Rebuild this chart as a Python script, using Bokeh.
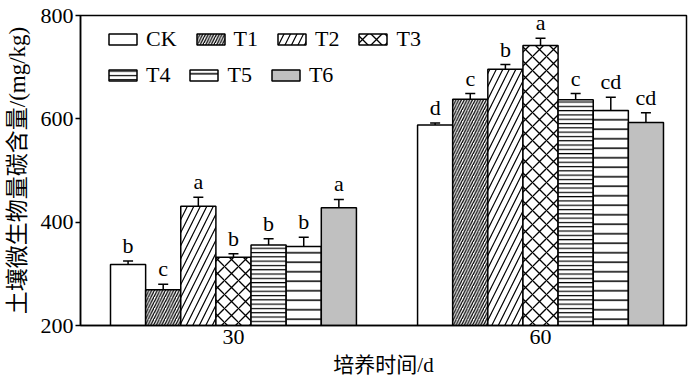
from bokeh.plotting import figure
from bokeh.models import (Range1d, FixedTicker, Whisker, TeeHead, ColumnDataSource,
                          Legend, LegendItem)
from bokeh.embed import file_html
from bokeh.resources import INLINE
from bokeh.core.properties import value

# ---- data ----
days = ["30", "60"]
treatments = ["CK", "T1", "T2", "T3", "T4", "T5", "T6"]
mbc_30 = [318, 269, 431, 332, 356, 353, 428]
err_30 = [7, 11, 17, 7, 12, 18, 16]
mbc_60 = [588, 638, 696, 742, 637, 616, 593]
err_60 = [4, 11, 9, 14, 12, 26, 19]
letters_30 = ["b", "c", "a", "b", "b", "b", "a"]
letters_60 = ["d", "c", "b", "a", "c", "cd", "cd"]
y_ticks = [200, 400, 600, 800]
x_title = "培养时间/d"
y_title = "土壤微生物量碳含量/(mg/kg)"

# ---- styles ----
fills = ["white"] * 6 + ["#c0c0c0"]
hatches = [None, "/", "/", "x", "-", "-", None]
hatch_scales = [12, 5.5, 13, 14, 4.3, 9.5, 12]
hatch_weights = [1, 1.3, 1.2, 1.3, 1.2, 1.5, 1]
GROUP_STEP = 8.74
SERIF = "Liberation Serif"
CJK = "'Liberation Serif', 'Noto Sans CJK SC'"
FS = "22px"

p = figure(width=700, height=386, output_backend="svg",
           toolbar_location=None,
           x_range=Range1d(-1.354, 15.895), y_range=Range1d(200, 800),
           min_border_left=80, min_border_right=14, min_border_top=15,
           min_border_bottom=61)
p.grid.visible = False
p.outline_line_color = "black"
p.outline_line_width = 1.5
p.background_fill_color = "white"

values_by_day = [mbc_30, mbc_60]
errs_by_day = [err_30, err_60]
letters_by_day = [letters_30, letters_60]

renderers = []
for i, t in enumerate(treatments):
    xs = [g * GROUP_STEP + i for g in range(len(days))]
    tops = [values_by_day[g][i] for g in range(len(days))]
    src = ColumnDataSource(dict(x=xs, top=tops))
    kw = dict(x="x", top="top", bottom=200, width=1.0, source=src,
              fill_color=fills[i], line_color="black", line_width=1.5)
    if hatches[i]:
        kw.update(hatch_pattern=hatches[i], hatch_scale=hatch_scales[i],
                  hatch_color="black", hatch_weight=hatch_weights[i])
    r = p.vbar(**kw)
    renderers.append(r)

# error bars and letters
ex, eu, el, lt = [], [], [], []
for g in range(len(days)):
    for i in range(len(treatments)):
        ex.append(g * GROUP_STEP + i)
        eu.append(values_by_day[g][i] + errs_by_day[g][i])
        el.append(values_by_day[g][i] - errs_by_day[g][i])
        lt.append(letters_by_day[g][i])
esrc = ColumnDataSource(dict(x=ex, upper=eu, lower=el, letter=lt))
w = Whisker(base="x", upper="upper", lower="lower", source=esrc,
            line_width=1.5, line_color="black",
            upper_head=TeeHead(size=10, line_width=1.5, line_color="black"),
            lower_head=TeeHead(size=10, line_width=1.5, line_color="black"))
p.add_layout(w)
p.text(x="x", y="upper", text="letter", source=esrc, text_font=value(SERIF),
       text_font_size=FS, text_align="center", text_baseline="bottom",
       y_offset=-3, text_color="black")

# axes
p.yaxis.ticker = FixedTicker(ticks=y_ticks)
p.yaxis.minor_tick_line_color = None
p.yaxis.major_tick_out = 5
p.yaxis.major_tick_in = 0
p.yaxis.major_tick_line_width = 1.5
p.yaxis.axis_line_width = 1.5
p.yaxis.major_label_text_font = SERIF
p.yaxis.major_label_text_font_size = FS
p.yaxis.major_label_text_color = "black"
p.yaxis.major_label_standoff = 2
p.yaxis.axis_label = y_title
p.yaxis.axis_label_text_font = CJK
p.yaxis.axis_label_text_font_size = "23px"
p.yaxis.axis_label_text_font_style = "normal"
p.yaxis.axis_label_text_color = "black"
p.yaxis.axis_label_standoff = 8

centers = [g * GROUP_STEP + (len(treatments) - 1) / 2 for g in range(len(days))]
p.xaxis.ticker = FixedTicker(ticks=centers)
p.xaxis.major_label_overrides = {c: d for c, d in zip(centers, days)}
p.xaxis.major_tick_line_color = None
p.xaxis.major_tick_out = 0
p.xaxis.major_tick_in = 0
p.xaxis.minor_tick_line_color = None
p.xaxis.axis_line_width = 1.5
p.xaxis.major_label_text_font = SERIF
p.xaxis.major_label_text_font_size = FS
p.xaxis.major_label_text_color = "black"
p.xaxis.major_label_standoff = 4
p.xaxis.axis_label = x_title
p.xaxis.axis_label_text_font = CJK
p.xaxis.axis_label_text_font_size = "21px"
p.xaxis.axis_label_text_font_style = "normal"
p.xaxis.axis_label_text_color = "black"
p.xaxis.axis_label_standoff = 6

# legends (two rows)
def make_legend(idx, loc):
    items = [LegendItem(label=treatments[i], renderers=[renderers[i]]) for i in idx]
    lg = Legend(items=items, location=loc, orientation="horizontal",
                glyph_width=35, glyph_height=14, label_height=14,
                label_standoff=6, spacing=16, padding=0, margin=0,
                border_line_color=None, background_fill_alpha=0,
                label_text_font=SERIF, label_text_font_size=FS,
                label_text_color="black", label_text_baseline="middle")
    return lg

p.add_layout(make_legend([0, 1, 2, 3], (25, 273)), "center")
p.add_layout(make_legend([4, 5, 6], (25, 237)), "center")

open("out.html", "w").write(file_html(p, INLINE))
